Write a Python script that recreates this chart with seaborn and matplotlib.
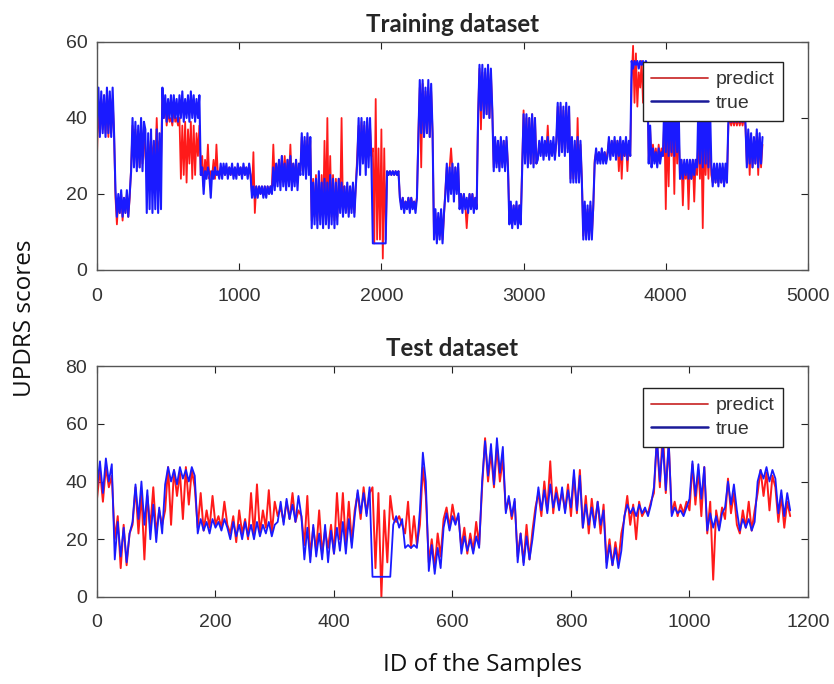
import numpy as np
import pandas as pd
import matplotlib
matplotlib.use("Agg")
import matplotlib.pyplot as plt
import seaborn as sns
from matplotlib.lines import Line2D

# ---------------- data ----------------
# Training set: one value every 10 samples, grouped by subject block
train_step = 10
train_true_blocks = [
    [40, 48, 35, 47, 36, 46, 35, 48, 36, 47, 35, 48, 36],
    [21, 14, 20, 15, 21, 14, 19, 15, 21, 14, 20],
    [26, 40, 27, 39, 26, 38, 27, 40, 26, 39],
    [37, 15, 36, 16, 37, 15, 34, 16, 37, 15, 36, 16],
    [48, 40, 46, 39, 45, 40, 46, 39, 46, 40, 45, 39, 46, 40, 47, 39, 45, 40, 46, 39,
     47, 40, 46, 39, 45, 40, 46],
    [25, 27, 20, 26, 24, 27, 25, 19, 26, 24, 27, 25, 26],
    [24, 28, 24, 28, 25, 28, 24, 27, 25, 28, 24, 27, 24, 28, 25, 27, 24, 28, 25, 27,
     24, 28, 25],
    [19, 22, 19, 22, 19, 22, 20, 22, 19, 22, 19, 22, 20, 22],
    [20, 27, 21, 28, 22, 29, 21, 30, 22, 28, 21, 29, 22, 30, 21, 28, 22, 29, 21, 28],
    [25, 36, 25, 35, 24, 36, 25, 35],
    [11, 23, 12, 24, 11, 26, 12, 23, 11, 24, 12, 23, 11, 25, 12, 24, 11, 23, 12, 24],
    [15, 23, 14, 22, 15, 23, 14, 22, 15, 23, 14, 22],
    [28, 40, 25, 40, 28, 39, 25, 40, 27, 40, 28],
    [7, 7, 7, 7, 7, 7, 7, 7, 7, 7],
    [26, 25, 26, 25, 26, 25, 26, 25, 26],
    [19, 16, 19, 15, 18, 16, 19, 15, 19, 16, 18, 15, 19],
    [35, 50, 36, 50, 35, 48, 36, 50, 35, 49, 36],
    [8, 16, 7, 15, 8, 16, 7, 15],
    [20, 28, 18, 27, 20, 28, 18, 27, 20, 28],
    [16, 20, 15, 20, 16, 19, 15, 20, 16, 20, 15, 19, 16],
    [40, 54, 42, 54, 40, 53, 41, 54, 40, 53, 42],
    [26, 35, 27, 34, 26, 35, 27, 34, 26, 35, 27],
    [12, 18, 11, 17, 12, 18, 11, 17, 12],
    [27, 41, 28, 41, 27, 40, 28, 41, 27, 40, 28],
    [29, 34, 30, 35, 29, 34, 30, 35, 29, 34, 30, 35, 29, 34],
    [44, 30, 44, 31, 43, 30, 44, 31, 43],
    [23, 35, 23, 34, 23, 35, 23, 34, 23],
    [8, 18, 8, 17, 8, 18, 8, 17],
    [28, 32, 28, 31, 28, 32, 28, 31, 28],
    [30, 35, 29, 34, 30, 35, 29, 34, 30, 35, 29, 34, 30, 35, 29, 34, 30],
    [55, 53, 55, 54, 55, 53, 55, 54, 55, 53, 55, 54],
    [28, 38, 27, 32, 28, 31, 27, 32, 28, 31],
    [30, 45, 31, 44, 30, 45, 31, 44, 30, 45, 31, 44],
    [24, 29, 24, 29, 25, 29, 24, 29, 24, 29, 25, 29],
    [27, 45, 28, 44, 27, 45, 28, 44, 27, 45, 28],
    [22, 28, 23, 28, 22, 28, 23, 28, 22, 28, 23],
    [39, 40, 39, 40, 39, 40, 39, 40, 39, 40, 39, 40, 39],
    [27, 37, 28, 36, 27, 35, 28, 37, 27, 36, 28, 35],
]
train_pred_blocks = [
    [30, 44, 36, 45, 37, 46, 36, 44, 35, 46, 36, 45, 36],
    [19, 12, 18, 15, 20, 13, 19, 15, 20, 14, 19],
    [27, 38, 28, 37, 28, 36, 27, 38, 28, 37],
    [30, 27, 34, 28, 35, 29, 33, 28, 40, 29, 34, 28],
    [47, 40, 44, 38, 42, 39, 40, 38, 43, 39, 40, 38, 40, 24, 38, 25, 39, 23, 37, 28,
     39, 24, 38, 25, 36, 30, 38],
    [25, 30, 22, 29, 25, 33, 24, 26, 25, 29, 24, 33, 25],
    [25, 27, 25, 27, 25, 27, 25, 27, 25, 27, 25, 27, 25, 27, 25, 27, 25, 27, 25, 27,
     25, 27, 25],
    [20, 31, 15, 22, 20, 22, 20, 22, 20, 22, 20, 22, 20, 22],
    [22, 33, 23, 28, 24, 29, 23, 30, 24, 30, 23, 29, 24, 33, 23, 28, 24, 29, 23, 28],
    [26, 35, 27, 34, 26, 35, 27, 34],
    [13, 24, 14, 25, 13, 24, 14, 25, 13, 34, 14, 40, 13, 30, 14, 25, 13, 24, 14, 24],
    [16, 40, 15, 22, 16, 22, 15, 22, 16, 22, 15, 22],
    [30, 38, 28, 39, 30, 38, 28, 39, 30, 38, 30],
    [32, 7, 45, 8, 32, 8, 37, 3, 32, 8],
    [26, 25, 26, 25, 26, 25, 26, 25, 26],
    [19, 17, 19, 17, 18, 17, 19, 17, 19, 17, 18, 17, 19],
    [36, 48, 27, 49, 35, 47, 36, 48, 35, 47, 36],
    [9, 15, 8, 14, 9, 15, 8, 14],
    [21, 27, 21, 27, 32, 26, 21, 27, 21, 27],
    [17, 20, 17, 20, 17, 11, 17, 20, 17, 20, 17, 19, 17],
    [41, 53, 37, 52, 42, 52, 41, 53, 40, 52, 42],
    [27, 34, 28, 34, 27, 34, 28, 34, 27, 34, 28],
    [13, 17, 12, 17, 13, 17, 12, 17, 13],
    [28, 42, 29, 40, 28, 40, 28, 41, 28, 40, 28],
    [30, 33, 31, 33, 30, 33, 31, 38, 30, 33, 31, 33, 30, 33],
    [43, 31, 43, 32, 42, 31, 43, 32, 42],
    [24, 34, 24, 33, 24, 40, 24, 33, 24],
    [9, 17, 9, 16, 9, 17, 9, 16],
    [29, 31, 29, 31, 29, 31, 29, 31, 29],
    [31, 34, 30, 34, 31, 34, 30, 34, 26, 34, 24, 33, 30, 34, 26, 33, 30],
    [50, 59, 44, 57, 43, 52, 48, 55, 44, 53, 45, 52],
    [29, 37, 28, 33, 29, 32, 28, 33, 29, 32],
    [30, 40, 16, 38, 22, 40, 30, 38, 20, 40, 28, 38],
    [24, 29, 17, 28, 24, 29, 16, 28, 24, 29, 18, 29],
    [25, 36, 24, 35, 11, 35, 25, 34, 24, 36, 25],
    [23, 27, 23, 27, 23, 27, 23, 27, 23, 27, 23],
    [38, 40, 38, 40, 38, 40, 38, 40, 38, 40, 38, 40, 38],
    [28, 36, 25, 35, 27, 33, 28, 36, 25, 35, 27, 33],
]

# Test set: one value every 5 samples
test_step = 5
test_true = [
    38, 47, 36, 48, 40, 46,
    13, 26, 14, 24, 12, 22,
    26, 39, 27, 40, 25, 37,
    20, 32, 19, 31, 22,
    39, 45, 40, 44, 39, 45, 41, 44, 40, 45, 42,
    22, 27, 23, 26, 22, 27, 24, 26, 23, 27, 24,
    20, 26, 21, 25, 20, 26, 21, 25, 20, 26, 21, 25, 22, 26, 21, 25,
    26, 33, 25, 34, 27, 32, 26, 35, 28,
    13, 24, 12, 25, 14, 22, 13, 25, 12, 23, 15, 24,
    16, 26, 15, 27, 17,
    28, 37, 29, 36, 28, 38,
    7, 7, 7, 7, 7, 7, 7,
    25, 28, 24, 27,
    17, 18, 17, 18, 17,
    30, 50, 40,
    9, 18, 8, 17, 10,
    24, 29, 23, 28, 25, 29,
    15, 21, 16, 20, 15, 21, 17,
    40, 54, 42, 53, 39, 55, 43, 52,
    29, 35, 28, 34,
    12, 22, 11, 21, 13, 20,
    29, 38, 30, 37, 29, 39, 31, 36, 30, 38, 29, 37,
    31, 44, 30, 42,
    24, 32, 25, 31, 24, 33, 25, 30,
    10, 18, 11, 17, 10, 16,
    28, 32, 29, 31, 28, 32, 29, 31, 28, 32,
    38, 55, 40, 53, 37, 54,
    28, 31, 29, 30, 28, 31,
    34, 47, 35, 46, 34, 45,
    23, 29, 24, 28, 23, 29,
    31, 40, 32, 39, 30,
    23, 27, 24, 27, 23, 26,
    40, 44, 41, 45, 40, 44, 41,
    29, 37, 28, 36, 30,
]
test_pred = [
    34, 44, 33, 45, 38, 42,
    20, 28, 10, 25, 11, 22,
    25, 38, 22, 36, 13, 35,
    24, 38, 22, 30, 25,
    30, 45, 25, 44, 35, 43, 27, 45, 32, 44, 38,
    24, 36, 23, 30, 24, 35, 25, 28, 24, 33, 25,
    22, 28, 19, 30, 22, 27, 20, 36, 21, 39, 22, 30, 24, 37, 22, 33,
    28, 31, 26, 33, 27, 36, 26, 30, 28,
    18, 35, 14, 24, 16, 30, 15, 23, 17, 25, 15, 36,
    20, 36, 18, 33, 19,
    30, 36, 27, 38, 29, 36,
    38, 10, 36, 0, 30, 12, 35,
    27, 26, 28, 25,
    22, 33, 17, 28, 18,
    25, 45, 35,
    12, 20, 10, 22, 14,
    27, 31, 24, 32, 26, 28,
    17, 24, 15, 22, 16, 26, 18,
    38, 55, 40, 50, 38, 52, 40, 48,
    30, 34, 27, 33,
    14, 22, 12, 25, 13, 23,
    31, 36, 28, 40, 30, 47, 29, 38, 32, 36, 30, 39,
    28, 42, 29, 44,
    24, 35, 22, 34, 25, 33, 22, 32,
    12, 20, 11, 19, 12, 22,
    27, 35, 25, 32, 20, 33, 28, 30, 29, 33,
    36, 55, 38, 58, 36, 53,
    29, 33, 28, 32, 29, 33,
    30, 46, 32, 44, 28, 45,
    22, 33, 6, 30, 24, 31,
    27, 41, 29, 36, 25,
    22, 30, 24, 33, 23, 30,
    36, 44, 35, 43, 30, 42, 38,
    26, 35, 24, 33, 28,
]

titles = ["Training dataset", "Test dataset"]
series_names = ["predict", "true"]
train_xticks = [0, 1000, 2000, 3000, 4000, 5000]
train_yticks = [0, 20, 40, 60]
test_xticks = [0, 200, 400, 600, 800, 1000, 1200]
test_yticks = [0, 20, 40, 60, 80]

train_true = [v for b in train_true_blocks for v in b]
train_pred = [v for b in train_pred_blocks for v in b]

# ---------------- plotting ----------------
sns.set_theme(style="white")
plt.rcParams["font.family"] = ["Liberation Sans", "DejaVu Sans"]

fig = plt.figure(figsize=(8.34, 6.84), dpi=100)
ax1 = fig.add_axes([0.1163, 0.6053, 0.8525, 0.3333])
ax2 = fig.add_axes([0.1163, 0.1272, 0.8525, 0.3377])

RED = "#ff1a1a"
BLUE = "#1a1aff"

def panel(ax, step, true_vals, pred_vals, xticks, yticks, title, leg_anchor,
          lw_true, lw_pred, xpad):
    d_pred = pd.DataFrame({"id": np.arange(len(pred_vals)) * step, "v": pred_vals})
    d_true = pd.DataFrame({"id": np.arange(len(true_vals)) * step, "v": true_vals})
    sns.lineplot(data=d_pred, x="id", y="v", ax=ax, color=RED, lw=lw_pred,
                 estimator=None, sort=False)
    sns.lineplot(data=d_true, x="id", y="v", ax=ax, color=BLUE, lw=lw_true,
                 estimator=None, sort=False)
    ax.set_xlim(xticks[0], xticks[-1])
    ax.set_ylim(yticks[0], yticks[-1])
    ax.set_xticks(xticks)
    ax.set_yticks(yticks)
    ax.set_xlabel("")
    ax.set_ylabel("")
    ax.tick_params(direction="in", length=5, width=0.8, top=True, right=True,
                   bottom=True, left=True,
                   labelsize=14, labelcolor="#333333", color="#222222")
    ax.tick_params(axis="x", pad=xpad)
    ax.tick_params(axis="y", pad=7)
    for s in ax.spines.values():
        s.set_color("#555555")
        s.set_linewidth(1.0)
    ax.set_title(title, fontsize=17.3, fontweight="bold",
                 family=["Lato", "DejaVu Sans"], pad=7)
    handles = [Line2D([], [], color="#cc3333", lw=1.3),
               Line2D([], [], color="#1a1a99", lw=1.8)]
    leg = ax.legend(handles, series_names, loc="upper right", bbox_to_anchor=leg_anchor,
                    fontsize=14, frameon=True, fancybox=False, framealpha=1,
                    edgecolor="#222222", handlelength=2.9, borderpad=0.45,
                    labelspacing=0.3, handletextpad=0.4, borderaxespad=0)
    leg.get_frame().set_linewidth(1.0)
    for t in leg.get_texts():
        t.set_color("#333333")

panel(ax1, train_step, train_true, train_pred, train_xticks, train_yticks,
      titles[0], (0.965, 0.912), 1.5, 1.3, 13)
panel(ax2, test_step, test_true, test_pred, test_xticks, test_yticks,
      titles[1], (0.965, 0.905), 1.3, 1.4, 12)

fig.text(0.030, 0.534, "UPDRS scores", rotation=90, ha="center", va="center",
         fontsize=17.5, family=["Open Sans", "DejaVu Sans"], color="#111111")
fig.text(0.578, 0.028, "ID of the Samples", ha="center", va="center",
         fontsize=17.5, family=["Open Sans", "DejaVu Sans"], color="#111111")

fig.savefig("out.png", dpi=100)
